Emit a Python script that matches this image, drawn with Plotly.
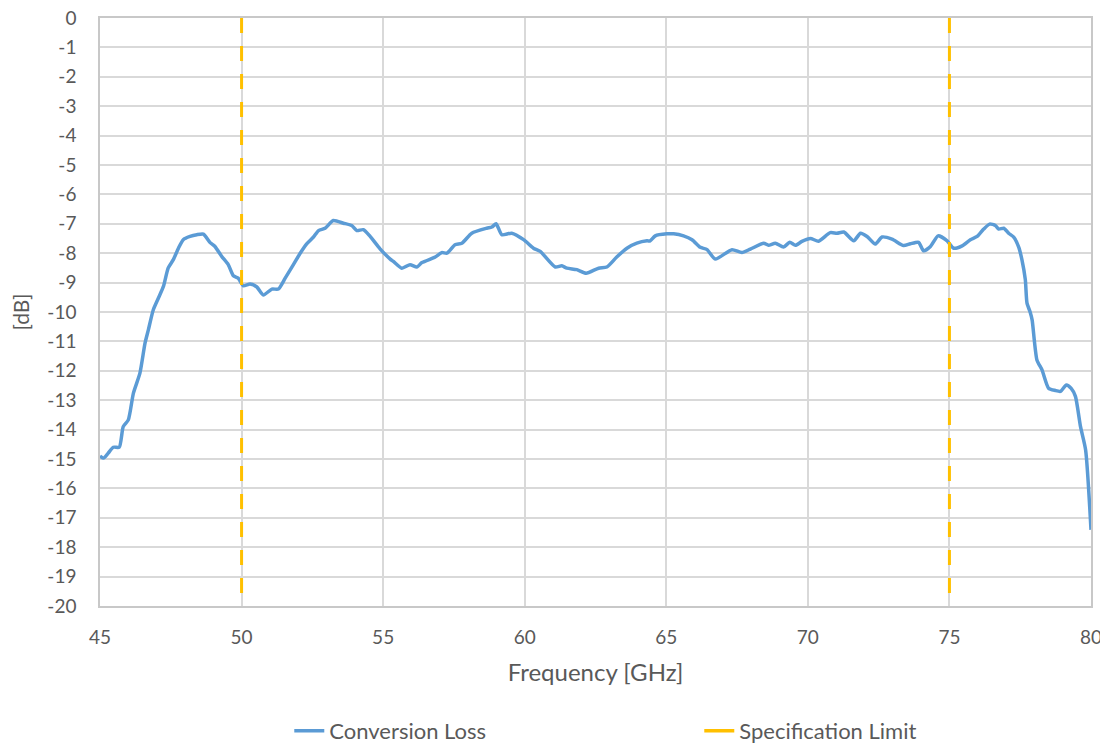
import plotly.graph_objects as go

freq_ghz = [45.0, 45.12, 45.29, 45.47, 45.68, 45.82, 46.0, 46.18, 46.41, 46.59, 46.71, 46.88, 47.06,
            47.24, 47.41, 47.59, 47.77, 47.94, 48.18, 48.42, 48.65, 48.89, 49.06, 49.3, 49.53, 49.71,
            49.88, 50.06, 50.3, 50.54, 50.77, 51.07, 51.3, 51.54, 51.83, 52.07, 52.3, 52.54, 52.72,
            52.95, 53.24, 53.6, 53.89, 54.07, 54.3, 54.54, 54.89, 55.25, 55.36, 55.66, 55.95, 56.19,
            56.37, 56.84, 57.07, 57.25, 57.54, 57.78, 58.13, 58.66, 58.84, 58.99, 59.19, 59.54, 59.96,
            60.31, 60.55, 61.08, 61.31, 61.49, 61.84, 62.17, 62.61, 62.9, 63.25, 63.61, 63.96, 64.32,
            64.43, 64.61, 65.02, 65.26, 65.61, 65.91, 66.2, 66.44, 66.73, 67.32, 67.67, 67.97, 68.44,
            68.61, 68.85, 69.14, 69.36, 69.56, 69.79, 70.09, 70.38, 70.79, 71.03, 71.27, 71.62, 71.86,
            72.09, 72.38, 72.62, 72.97, 73.38, 73.62, 73.91, 74.09, 74.33, 74.6, 74.92, 75.15, 75.45,
            75.74, 75.98, 76.21, 76.42, 76.62, 76.74, 76.92, 77.09, 77.27, 77.45, 77.56, 77.68, 77.74,
            77.85, 77.92, 78.09, 78.27, 78.5, 78.74, 78.92, 79.13, 79.3, 79.45, 79.63, 79.81, 80.0]
loss_db = [-14.9, -14.97, -14.8, -14.6, -14.6, -13.9, -13.67, -12.76, -12.08, -11.06, -10.6, -9.93, -9.53,
           -9.13, -8.5, -8.22, -7.83, -7.54, -7.43, -7.37, -7.35, -7.64, -7.77, -8.11, -8.39, -8.77,
           -8.85, -9.11, -9.05, -9.15, -9.42, -9.22, -9.22, -8.85, -8.39, -8.0, -7.68, -7.45, -7.23,
           -7.15, -6.89, -6.98, -7.06, -7.23, -7.2, -7.43, -7.85, -8.2, -8.28, -8.51, -8.39, -8.47,
           -8.32, -8.13, -7.98, -8.0, -7.71, -7.66, -7.32, -7.15, -7.11, -7.0, -7.37, -7.32, -7.54,
           -7.83, -7.94, -8.47, -8.43, -8.51, -8.56, -8.68, -8.51, -8.47, -8.13, -7.83, -7.66, -7.58,
           -7.58, -7.41, -7.34, -7.34, -7.41, -7.54, -7.8, -7.88, -8.2, -7.88, -7.98, -7.86, -7.66,
           -7.73, -7.66, -7.79, -7.63, -7.73, -7.6, -7.5, -7.59, -7.3, -7.32, -7.28, -7.58, -7.32,
           -7.43, -7.69, -7.45, -7.52, -7.74, -7.68, -7.63, -7.92, -7.77, -7.41, -7.58, -7.83, -7.75,
           -7.54, -7.43, -7.18, -7.01, -7.06, -7.18, -7.15, -7.32, -7.45, -7.8, -8.22, -8.9, -9.7,
           -10.0, -10.27, -11.63, -11.97, -12.59, -12.67, -12.7, -12.48, -12.6, -12.87, -13.9, -14.69, -17.41]

spec_x = [50, 50, None, 75, 75]
spec_y = [0, -20, None, 0, -20]

x_ticks = [45, 50, 55, 60, 65, 70, 75, 80]
y_ticks = list(range(0, -21, -1))
y_tick_text = [str(v) for v in y_ticks]

FONT = "Lato"
GRAY = "#595959"
BLUE = "#5B9BD5"
GOLD = "#FFC000"

fig = go.Figure()
fig.add_trace(go.Scatter(x=freq_ghz, y=loss_db, mode="lines", name="Conversion Loss",
                         line=dict(color=BLUE, width=3.5, shape="spline", smoothing=0.6)))
fig.add_trace(go.Scatter(x=spec_x, y=spec_y, mode="lines", name="Specification Limit",
                         showlegend=False, legendgroup="spec",
                         line=dict(color=GOLD, width=3, dash="15px,13px")))
# legend entry (solid swatch as in the reference legend)
fig.add_trace(go.Scatter(x=[None], y=[None], mode="lines", name="Specification Limit",
                         legendgroup="spec", line=dict(color=GOLD, width=3.5)))

fig.update_layout(
    width=1100, height=739,
    margin=dict(l=92, r=17, t=10, b=141, autoexpand=False),
    plot_bgcolor="white", paper_bgcolor="white",
    font=dict(family=FONT, color=GRAY, size=16),
    showlegend=True,
    hovermode=False,
    legend=dict(orientation="h", x=0.191, xanchor="left", y=-0.2126, yanchor="middle",
                entrywidth=365, entrywidthmode="pixels", font=dict(size=22, color=GRAY)),
    xaxis=dict(range=[45, 80], tickvals=x_ticks, ticktext=[str(v) for v in x_ticks],
               showgrid=True, gridcolor="#D9D9D9", gridwidth=1.5,
               showline=True, linecolor="#C8C8C8", linewidth=1.5, mirror=True,
               ticks="", zeroline=False, tickfont=dict(size=19), automargin=False,
               ticklabelstandoff=13, ticklabeloverflow="allow",
               title=dict(text="Frequency [GHz]", font=dict(size=24), standoff=18)),
    yaxis=dict(range=[-20, 0], tickvals=y_ticks, ticktext=y_tick_text,
               showgrid=True, gridcolor="#D9D9D9", gridwidth=1.5,
               showline=True, linecolor="#C8C8C8", linewidth=1.5, mirror=True,
               ticks="", zeroline=False, tickfont=dict(size=19), automargin=False,
               ticklabelstandoff=18, ticklabeloverflow="allow",
               title=dict(text="[dB]", font=dict(size=21), standoff=12)),
)

fig.write_html("out.html")
